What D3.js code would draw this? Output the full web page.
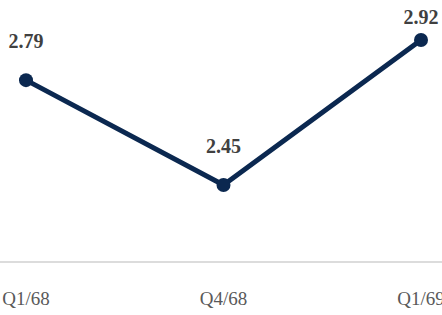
<!DOCTYPE html>
<html>
<head>
<meta charset="utf-8">
<script src="https://cdn.jsdelivr.net/npm/d3@7"></script>
<style>
  body { margin: 0; background: #fff; }
  svg { display: block; }
</style>
</head>
<body>
<svg width="442" height="315"></svg>
<script>
var quarters = ["Q1/68", "Q4/68", "Q1/69"];
var values = [2.79, 2.45, 2.92];

var svg = d3.select("svg"),
    width = 442,
    height = 315;

var x = d3.scalePoint()
    .domain(quarters)
    .range([26, 421]);

var y = d3.scaleLinear()
    .domain([2.2, 3.05])
    .range([262, 0]);

var data = quarters.map(function(q, i) { return { q: q, v: values[i] }; });

// baseline
svg.append("line")
    .attr("x1", 0)
    .attr("x2", width)
    .attr("y1", y(2.2))
    .attr("y2", y(2.2))
    .attr("stroke", "#dcdcdc")
    .attr("stroke-width", 2);

// x labels
svg.append("g")
  .selectAll("text")
  .data(quarters)
  .enter().append("text")
    .attr("x", function(d) { return x(d); })
    .attr("y", 305)
    .attr("text-anchor", "middle")
    .style("font-family", "'Liberation Serif', 'Times New Roman', serif")
    .attr("font-size", 19)
    .attr("fill", "#595959")
    .text(function(d) { return d; });

var line = d3.line()
    .x(function(d) { return x(d.q); })
    .y(function(d) { return y(d.v); });

svg.append("path")
    .datum(data)
    .attr("d", line)
    .attr("fill", "none")
    .attr("stroke", "#0b2850")
    .attr("stroke-width", 5)
    .attr("stroke-linejoin", "round");

svg.append("g")
  .selectAll("circle")
  .data(data)
  .enter().append("circle")
    .attr("cx", function(d) { return x(d.q); })
    .attr("cy", function(d) { return y(d.v); })
    .attr("r", 7)
    .attr("fill", "#0b2850");

// value labels
svg.append("g")
  .selectAll("text")
  .data(data)
  .enter().append("text")
    .attr("x", function(d) { return x(d.q); })
    .attr("y", function(d) { return Math.max(y(d.v) - 32, 24); })
    .attr("text-anchor", "middle")
    .style("font-family", "'Liberation Serif', 'Times New Roman', serif")
    .attr("font-weight", "bold")
    .attr("font-size", 20)
    .attr("fill", "#404040")
    .text(function(d) { return d.v.toFixed(2); });
</script>
</body>
</html>
